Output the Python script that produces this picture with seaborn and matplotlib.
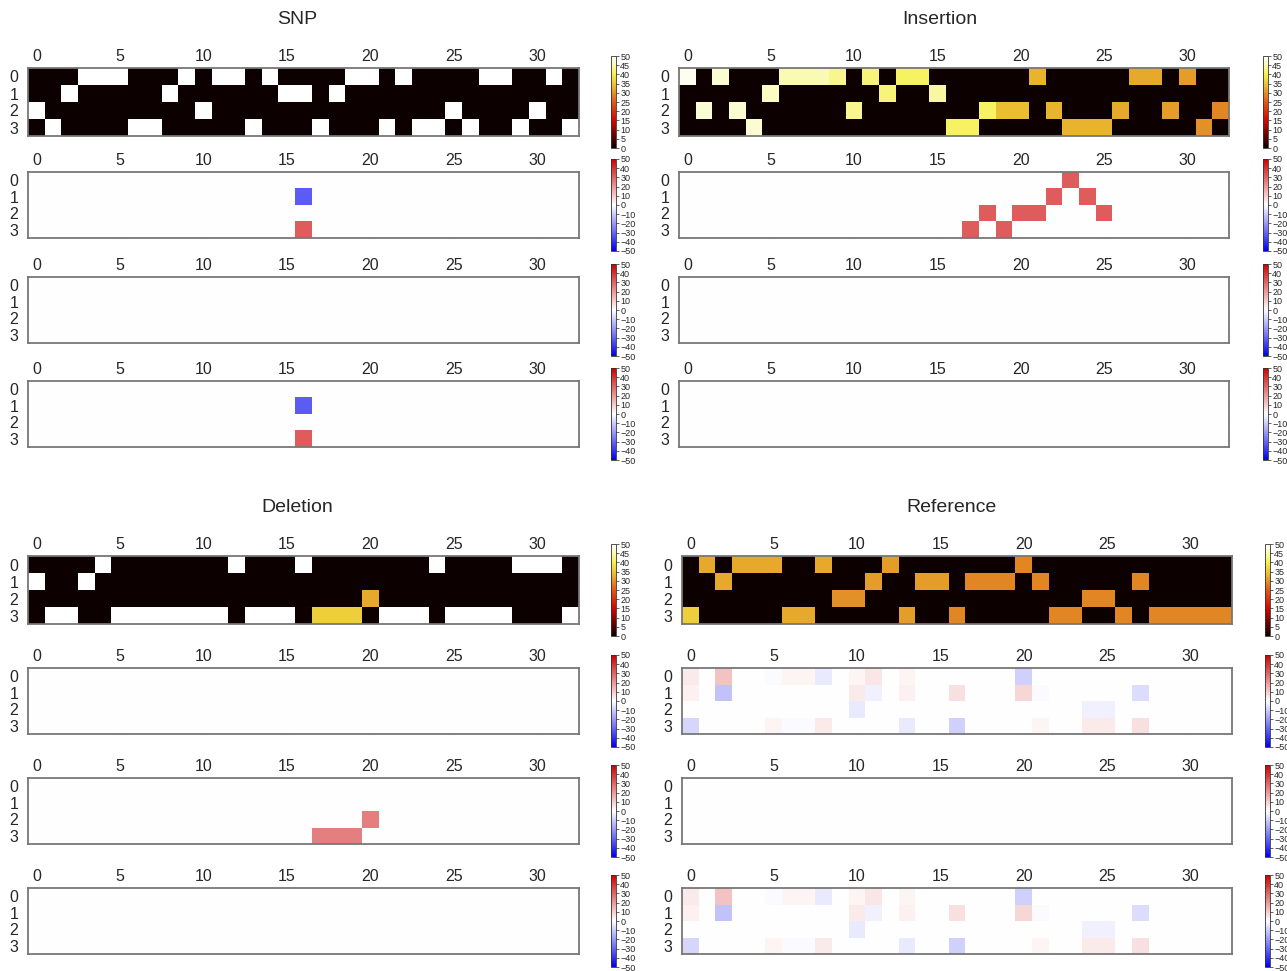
import numpy as np
import pandas as pd
import matplotlib
matplotlib.use("Agg")
import matplotlib.pyplot as plt
import seaborn as sns
from matplotlib.colors import LinearSegmentedColormap

sns.set_style("white")
plt.rcParams["font.family"] = ["Liberation Sans", "DejaVu Sans"]

# row order of the one-hot tracks (labels 0..3)
bases = ["A", "C", "G", "T"]

# top tracks: base per position and its intensity
snp_seq = "GTCAAATTCAGAATACCTCAATATTGTAATGAT"
snp_level = [50, 50, 50, 50, 50, 50, 50, 50, 50, 50, 50, 50, 50, 50, 50, 50, 50,
             50, 50, 50, 50, 50, 50, 50, 50, 50, 50, 50, 50, 50, 50, 50, 50]

ins_seq = "AGAGTCAAAAGACAACTTGGGAGTTTGAAGATG"
ins_level = [49, 47, 47, 47, 47, 46, 45, 45, 45, 43, 43, 42, 42, 41, 41, 44, 41,
             41, 41, 34, 34, 33, 33, 33, 33, 33, 32, 32, 32, 31, 31, 30, 29]

del_seq = "CTTCATTTTTTTATTTATTTGTTTATTTTAAAT"
del_level = [50, 50, 50, 50, 50, 50, 50, 50, 50, 50, 50, 50, 50, 50, 50, 50, 50,
             36, 36, 36, 32, 50, 50, 50, 50, 50, 50, 50, 50, 50, 50, 50, 50]

ref_seq = "TACAAATTAGGCATCCTCCCACTTGGTCTTTTT"
ref_level = [36, 32, 32, 32, 32, 32, 32, 32, 32, 30, 30, 31, 31, 31, 31, 31, 29,
             29, 29, 29, 29, 29, 29, 29, 29, 29, 29, 29, 29, 29, 29, 29, 29]

# difference tracks: (row, position, value)
snp_diff = [(1, 16, -32), (3, 16, 32)]
ins_diff = [(0, 23, 32), (1, 22, 32), (1, 24, 32), (2, 18, 32), (2, 20, 32),
            (2, 21, 32), (2, 25, 32), (3, 17, 32), (3, 19, 32)]
del_diff = [(2, 20, 25), (3, 17, 25), (3, 18, 25), (3, 19, 25)]
ref_diff = [(0, 0, 4), (0, 2, 12), (0, 5, -1), (0, 6, 2), (0, 7, 2), (0, 8, -4),
            (0, 10, 2), (0, 11, 5), (0, 13, 2), (0, 20, -9),
            (1, 0, 3), (1, 2, -12), (1, 10, 4), (1, 11, -3), (1, 13, 3), (1, 16, 6),
            (1, 20, 8), (1, 21, -1), (1, 27, -7),
            (2, 10, -4), (2, 24, -3), (2, 25, -3),
            (3, 0, -8), (3, 5, 2), (3, 6, -1), (3, 7, -1), (3, 8, 4), (3, 13, -4),
            (3, 16, -9), (3, 21, 2), (3, 24, 4), (3, 25, 4), (3, 27, 6)]

groups = [
    ("SNP", snp_seq, snp_level, [snp_diff, [], snp_diff]),
    ("Insertion", ins_seq, ins_level, [ins_diff, [], []]),
    ("Deletion", del_seq, del_level, [[], del_diff, []]),
    ("Reference", ref_seq, ref_level, [ref_diff, [], ref_diff]),
]


def onehot(seq, level):
    m = np.zeros((len(bases), len(seq)))
    for j, (b, v) in enumerate(zip(seq, level)):
        m[bases.index(b), j] = v
    return m


def sparse(cells, n):
    m = np.zeros((len(bases), n))
    for r, c, v in cells:
        m[r, c] = v
    return m


W, H = 1287, 971
fig = plt.figure(figsize=(W / 100, H / 100), dpi=100)


def place(x0, y0, x1, y1):
    return fig.add_axes([x0 / W, 1 - y1 / H, (x1 - x0) / W, (y1 - y0) / H])


# muted "hot" palette, closer to the gnuplot-like look of the original
heat_cmap = LinearSegmentedColormap.from_list("heat", [
    (0.0, (0.05, 0.0, 0.0)),
    (0.3, (0.82, 0.03, 0.0)),
    (0.5, (0.88, 0.35, 0.10)),
    (0.6, (0.89, 0.57, 0.15)),
    (0.66, (0.91, 0.71, 0.18)),
    (0.8, (0.96, 0.94, 0.30)),
    (0.9, (0.98, 0.98, 0.70)),
    (1.0, (1.0, 1.0, 1.0)),
])
diff_cmap = LinearSegmentedColormap.from_list("diff", ["#0000ee", "#ffffff", "#cc0000"])

# pixel layout: (box x0, x1, colorbar x0), box tops per group
cols = [(28, 579, 611), (679, 1229, 1263), (28, 579, 611), (682, 1232, 1265)]
tops = [[68, 172, 277, 381], [68, 172, 277, 381],
        [556, 668, 778, 888], [556, 668, 778, 888]]
heights = [68, 66, 66, 66]
title_pos = [(297, 20), (940, 20), (297, 507), (952, 507)]


def draw(ax, cax, mat, cmap, vmin, vmax, cticks):
    sns.heatmap(pd.DataFrame(mat), ax=ax, cbar_ax=cax, cmap=cmap, vmin=vmin, vmax=vmax,
                xticklabels=False, yticklabels=False, cbar_kws={"ticks": cticks})
    n = mat.shape[1]
    ax.set_xticks(np.arange(0, n, 5) + 0.5, labels=[str(i) for i in range(0, n, 5)])
    ax.set_yticks(np.arange(4) + 0.5, labels=[str(i) for i in range(4)], rotation=0)
    ax.tick_params(axis="x", direction="in", top=True, bottom=True, labeltop=True,
                   labelbottom=False, length=3, color="#999999", labelsize=11.5, pad=3)
    ax.tick_params(axis="y", direction="in", left=True, right=True, length=3,
                   color="#999999", labelsize=11.5, pad=7)
    for s in ax.spines.values():
        s.set_visible(True)
        s.set_color("#777777")
        s.set_linewidth(1.3)
    cb = ax.collections[0].colorbar
    cb.outline.set_visible(True)
    cb.outline.set_linewidth(0.6)
    cb.outline.set_edgecolor("#333333")
    cax.tick_params(labelsize=6.5, length=2, width=0.5, pad=1)


for g, (name, seq, level, diffs) in enumerate(groups):
    x0, x1, cx = cols[g]
    n = len(seq)
    mats = [onehot(seq, level)] + [sparse(d, n) for d in diffs]
    for k, mat in enumerate(mats):
        top = tops[g][k]
        h = heights[k]
        ax = place(x0, top, x1, top + h)
        mid = top + h / 2
        cax = place(cx, mid - 46, cx + 5, mid + 46)
        if k == 0:
            draw(ax, cax, mat, heat_cmap, 0, 50, list(range(0, 51, 5)))
        else:
            draw(ax, cax, mat, diff_cmap, -50, 50, list(range(-50, 51, 10)))
    tx, ty = title_pos[g]
    fig.text(tx / W, 1 - ty / H, name, ha="center", va="center", fontsize=14)

fig.savefig("out.png", dpi=100)
